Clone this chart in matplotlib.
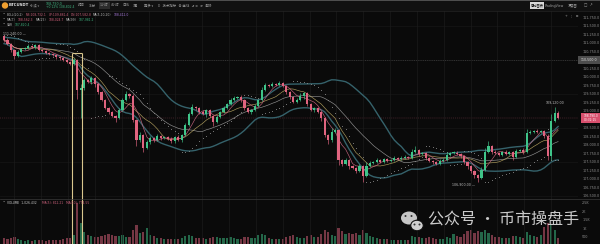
import numpy as np
import pandas as pd
import matplotlib.pyplot as plt
from matplotlib.patches import Rectangle, Ellipse
from matplotlib.lines import Line2D

plt.rcParams['font.family'] = ['DejaVu Sans']
plt.rcParams['figure.dpi'] = 100

# ---- data ----
first_open = 111200
close = [
    111080, 110970, 110790, 110610, 110730, 110820, 110850, 110910, 110880, 110940,
    110790, 110760, 110700, 110670, 110640, 110580, 110550, 110500, 110440, 110380,
    110500, 109610, 109670, 109910, 109850, 109970, 109790, 109550, 109320, 109080,
    108970, 108850, 108790, 109030, 109320, 109500, 109440, 108730, 108140, 108290,
    107910, 108090, 108200, 108140, 108260, 108200, 108230, 108170, 108110, 108230,
    108140, 108290, 108590, 108910, 109110, 109080, 108970, 108910, 109030, 108850,
    108670, 108820, 108970, 109080, 109200, 109320, 109380, 109410, 109320, 109080,
    108970, 109030, 109140, 109320, 109610, 109760, 109730, 109790, 109760, 109820,
    109730, 109550, 109410, 109260, 109320, 109440, 109530, 109200, 109030, 109080,
    108970, 108790, 108290, 108140, 108380, 108440, 107560, 107440, 107560, 107380,
    107320, 107230, 107380, 107090, 107380, 107470, 107500, 107560, 107500, 107590,
    107530, 107560, 107620, 107590, 107620, 107640, 107620, 107790, 107850, 107730,
    107760, 107620, 107530, 107500, 107440, 107530, 107560, 107700, 107760, 107760,
    107730, 107670, 107500, 107380, 107230, 107120, 107030, 107260, 107790, 107970,
    107790, 107760, 107700, 107790, 107730, 107790, 107640, 107820, 107850, 107790,
    108350, 108380, 108410, 108380, 108410, 108260, 107670, 108700, 108940, 108790,
]
wick_up = [
    40, 50, 30, 40, 60, 30, 40, 50, 30, 40,
    30, 40, 30, 30, 40, 30, 30, 40, 30, 40,
    60, 40, 120, 60, 40, 70, 30, 40, 30, 40,
    30, 40, 30, 60, 50, 90, 40, 60, 30, 90,
    40, 60, 50, 40, 60, 40, 30, 40, 50, 40,
    60, 40, 50, 60, 90, 40, 30, 60, 40, 30,
    30, 50, 40, 60, 40, 70, 60, 40, 50, 30,
    30, 40, 60, 40, 90, 60, 40, 50, 40, 60,
    40, 30, 30, 40, 60, 90, 40, 30, 40, 30,
    30, 30, 40, 30, 120, 60, 30, 40, 60, 30,
    40, 30, 60, 40, 120, 60, 40, 50, 30, 40,
    30, 40, 50, 30, 40, 60, 30, 90, 120, 40,
    40, 30, 30, 40, 30, 50, 60, 90, 40, 60,
    50, 40, 30, 40, 30, 40, 30, 90, 120, 150,
    40, 60, 30, 40, 50, 40, 30, 60, 40, 50,
    120, 60, 40, 50, 40, 30, 60, 200, 180, 60,
]
wick_dn = [
    40, 30, 60, 80, 30, 40, 30, 40, 30, 50,
    30, 40, 30, 40, 30, 40, 40, 30, 40, 30,
    40, 250, 820, 60, 40, 50, 90, 60, 40, 30,
    60, 40, 120, 40, 30, 40, 60, 50, 180, 60,
    120, 40, 50, 40, 30, 60, 40, 30, 60, 40,
    30, 50, 40, 30, 40, 60, 50, 40, 90, 30,
    120, 40, 30, 40, 30, 40, 30, 40, 60, 60,
    40, 60, 40, 30, 40, 30, 40, 30, 40, 30,
    40, 60, 60, 40, 30, 40, 90, 60, 40, 60,
    40, 90, 60, 120, 40, 30, 150, 60, 40, 90,
    40, 60, 40, 180, 40, 30, 40, 30, 40, 30,
    40, 30, 40, 30, 40, 30, 40, 30, 40, 60,
    30, 60, 40, 60, 40, 30, 40, 30, 40, 30,
    40, 60, 50, 90, 60, 90, 130, 40, 30, 40,
    60, 40, 30, 40, 30, 40, 90, 30, 40, 60,
    30, 40, 30, 40, 30, 60, 120, 120, 40, 40,
]
volume = [
    420, 380, 450, 520, 360, 300, 280, 310, 260, 300,
    340, 300, 280, 320, 300, 350, 330, 380, 420, 460,
    620, 2500, 1300, 820, 600, 540, 480, 520, 560, 640,
    700, 620, 580, 540, 600, 520, 480, 900, 1200, 760,
    820, 1030, 640, 540, 460, 420, 380, 400, 360, 380,
    400, 420, 560, 620, 580, 460, 420, 440, 400, 460,
    520, 480, 440, 420, 460, 520, 440, 400, 380, 480,
    520, 440, 460, 600, 680, 620, 440, 400, 380, 360,
    380, 520, 560, 600, 480, 460, 440, 540, 620, 480,
    520, 680, 900, 780, 620, 560, 1050, 860, 700, 760,
    680, 720, 640, 900, 760, 560, 480, 420, 400, 380,
    360, 340, 320, 340, 300, 320, 340, 560, 520, 480,
    420, 460, 480, 440, 400, 380, 400, 520, 460, 680,
    560, 520, 700, 860, 920, 760, 880, 820, 900, 720,
    600, 520, 480, 460, 440, 420, 540, 560, 480, 460,
    820, 640, 560, 520, 600, 1100, 1300, 1200, 900, 420,
]
box_candles = (20, 22)
price_ticks = np.arange(106500, 111751, 250)
vol_ticks = [500, 1000, 1500, 2000, 2500]
vol_labels = ['500', '1K', '1.5K', '2K', '2.5K']
toolbar_items = ['时间', '15分', '1小时', '4小时', '日线', '1周', '更多 ▾']
legend_rows = [
    [('BOLL(20,2)', '#b5b5b5'), ('MB:108,732.1', '#c9607a'), ('UP:109,881.4', '#c9607a'),
     ('DN:107,582.8', '#c9607a'), ('MA(5,10,20)', '#b5b5b5'), ('108,412.0', '#a678d8')],
    [('MA(7)', '#b5b5b5'), ('108,562.3', '#d0607a'), ('MA(25)', '#b5b5b5'),
     ('108,024.7', '#d0607a'), ('MA(99)', '#b5b5b5'), ('107,981.2', '#3fb27f')],
    [('SAR', '#b5b5b5'), ('107,820.4', '#3fb27f')],
]
cross_price = 110500

# ---- derived OHLC ----
c = np.array(close, dtype=float)
o = np.concatenate([[first_open], c[:-1]])
h = np.maximum(o, c) + np.array(wick_up)
l = np.minimum(o, c) - np.array(wick_dn)
v = np.array(volume, dtype=float)
x = np.arange(len(c))
up = c >= o

GREEN = '#3fc489'
RED = '#e0647f'
BG = '#0a0a0a'
CJK = ['Noto Sans CJK SC', 'DejaVu Sans']
col = np.where(up, GREEN, RED)

s = pd.Series(c)
mb = s.rolling(20, min_periods=1).mean()
sd = s.rolling(20, min_periods=2).std().bfill()
boll_up = (mb + 1.3 * sd).rolling(3, min_periods=1).mean()
boll_dn = (mb - 1.3 * sd).rolling(3, min_periods=1).mean()
ma5 = s.rolling(5, min_periods=1).mean()
ma10 = s.rolling(10, min_periods=1).mean()


def psar(high, low, af0=0.02, step=0.02, af_max=0.2):
    n = len(high)
    out = np.zeros(n)
    bull = False
    af = af0
    ep = low[0]
    out[0] = high[0]
    for i in range(1, n):
        sv = out[i - 1] + af * (ep - out[i - 1])
        j = max(i - 2, 0)
        if bull:
            sv = min(sv, low[i - 1], low[j])
            if low[i] < sv:
                bull, sv, ep, af = False, ep, low[i], af0
            elif high[i] > ep:
                ep, af = high[i], min(af + step, af_max)
        else:
            sv = max(sv, high[i - 1], high[j])
            if high[i] > sv:
                bull, sv, ep, af = True, ep, high[i], af0
            elif low[i] < ep:
                ep, af = low[i], min(af + step, af_max)
        out[i] = sv
    return out


sar = psar(h, l)

# ---- figure ----
W, H = 600, 244
fig = plt.figure(figsize=(W / 100, H / 100), facecolor=BG)


def fx(px):
    return px / W


def fy(py):
    return 1 - py / H


ax = fig.add_axes([0, fy(199), fx(578), (199 - 11) / H])
axv = fig.add_axes([0, 0, fx(578), 45 / H])
for a in (ax, axv):
    a.set_facecolor(BG)
    for sp in a.spines.values():
        sp.set_visible(False)
    a.set_xlim(-4 / 3.5, (578 - 4) / 3.5)
    a.set_xticks(np.arange(3, 165, 7.7))
    a.tick_params(axis='x', length=0, labelbottom=False)
    a.grid(axis='x', color='#1b1b1b', lw=0.5)

ax.set_ylim(106410, 111937)
# tick labels hidden where the price tags sit
shown = [p for p in price_ticks if abs(p - c[-1]) > 160 and abs(p - cross_price) > 160]
ax.yaxis.tick_right()
ax.set_yticks(shown)
ax.set_yticklabels([f'{p:,.1f}' for p in shown])
ax.tick_params(axis='y', length=0, pad=3, labelsize=2.4, colors='#8c8c8c')
for p in price_ticks[::4]:
    ax.axhline(p, color='#161616', lw=0.5, zorder=0)

# indicators
ax.plot(x, boll_up, color='#35626b', lw=1.0, zorder=2)
ax.plot(x, boll_dn, color='#35626b', lw=1.0, zorder=2)
ax.plot(x, mb, color='#bdbdbd', lw=0.45, alpha=0.75, zorder=2)
ax.plot(x, ma10, color='#c9b46a', lw=0.45, alpha=0.85, zorder=2)
ax.plot(x, ma5, color='#d36a86', lw=0.45, alpha=0.9, zorder=2)
ax.scatter(x, sar, s=0.35, color='#8f8f8f', lw=0, zorder=2)

# candles
ax.vlines(x, l, h, colors=col, lw=0.45, zorder=3)
body = np.maximum(np.abs(c - o), 18)
ax.bar(x, body, bottom=np.minimum(o, c), width=0.62, color=col, lw=0, zorder=4)

# volume
axv.bar(x, v, width=0.62, color=col, alpha=0.5, lw=0)
axv.set_ylim(88, 2735)
axv.yaxis.tick_right()
axv.set_yticks(vol_ticks)
axv.set_yticklabels(vol_labels)
axv.tick_params(axis='y', length=0, pad=3, labelsize=2.4, colors='#8c8c8c')

# highlight box around the gap candles
b0, b1 = box_candles[0] - 0.4, box_candles[1] + 0.35
box_top = h[box_candles[0]:box_candles[1] + 1].max() + 150
box_col = '#d9c68e'
ax.vlines([b0, b1], ax.get_ylim()[0], box_top, colors=box_col, lw=0.8, zorder=5)
ax.hlines(box_top, b0, b1, colors=box_col, lw=0.8, zorder=5)
for bx in (b0, b1):
    axv.axvline(bx, color=box_col, lw=0.8, zorder=5)

# high / low marks
ihi = len(h) - 2
ilo = int(np.argmin(l[120:])) + 120
ax.text(ihi, h[ihi] + 60, f'{h[ihi]:,.2f}', fontsize=2.3, color='#bdbdbd', va='bottom', ha='center')
ax.text(ilo - 0.8, l[ilo] - 30, f'{l[ilo]:,.2f} —', fontsize=2.3, color='#bdbdbd', va='top', ha='right')

# crosshair line + tag
ax.axhline(cross_price, color='#4a4a4a', lw=0.4, ls=(0, (2, 2)), zorder=1)
y_cross = ax.transData.transform((0, cross_price))[1]
fig.patches.append(Rectangle((fx(578), y_cross / H - 4 / H), fx(22), 8 / H,
                             transform=fig.transFigure, color='#4d4d4d', lw=0))
fig.text(fx(589), y_cross / H, f'{cross_price:,.1f}', fontsize=2.3, color='#e0e0e0',
         ha='center', va='center')

# last price tag
y_last = ax.transData.transform((0, c[-1]))[1]
ax.axhline(c[-1], color=RED, lw=0.35, ls=(0, (2, 2)), alpha=0.5, zorder=1)
fig.patches.append(Rectangle((fx(581), y_last / H - 5 / H), fx(19), 10 / H,
                             transform=fig.transFigure, color='#d9506e', lw=0))
fig.text(fx(590.5), y_last / H + 2.2 / H, f'{c[-1]:,.1f}', fontsize=2.1, color='white',
         ha='center', va='center')
fig.text(fx(590.5), y_last / H - 2.4 / H, '00:32:15', fontsize=2.1, color='white',
         ha='center', va='center')

# separators
fig.add_artist(Line2D([0, 1], [fy(199), fy(199)], transform=fig.transFigure, color='#3a3a3a', lw=0.5))
fig.add_artist(Line2D([0, 1], [fy(11), fy(11)], transform=fig.transFigure, color='#242424', lw=0.5))

# toolbar
fig.patches.append(Rectangle((0, fy(11)), 1, 11 / H, transform=fig.transFigure, color='#111111', lw=0))
fig.add_artist(Line2D([0, 1], [fy(0.4), fy(0.4)], transform=fig.transFigure, color='#5a5a5a', lw=0.6))
fig.patches.append(Ellipse((fx(5), fy(5.5)), fx(5), 5 / H, transform=fig.transFigure, color='#f0a030'))
fig.text(fx(9), fy(5.5), 'BTCUSDT', fontsize=2.8, color='#e8e8e8', weight='bold', va='center')
fig.text(fx(30), fy(5.5), '永续 ▾', fontsize=2.4, color='#8c8c8c', va='center', family=CJK)
fig.text(fx(46), fy(3.8), '108,790.0', fontsize=2.3, color='#3fb27f', va='center')
fig.text(fx(46), fy(7.3), '+0.12% 108,802.4', fontsize=2.2, color='#3fb27f', va='center')
for k, item in enumerate(toolbar_items):
    xx = 78 + k * 11
    if item == '1小时':
        fig.patches.append(Rectangle((fx(xx - 1.5), fy(9)), fx(11), 7 / H,
                                     transform=fig.transFigure, color='#2c2c2c', lw=0))
    fig.text(fx(xx), fy(5.5), item, fontsize=2.4, color='#9a9a9a', va='center', family=CJK)
fig.text(fx(158), fy(5.5), 'D   技术指标   ⊕ 画线   ↺ ⚙   ⟳  清除', fontsize=2.4, color='#9a9a9a',
         va='center', family=CJK)
fig.patches.append(Rectangle((fx(530), fy(9)), fx(14), 7 / H, transform=fig.transFigure,
                             color='#d8d8d8', lw=0))
fig.text(fx(537), fy(5.5), '原始图表', fontsize=2.3, color='#111111', ha='center', va='center',
         family=CJK)
fig.text(fx(555), fy(5.5), 'TradingView', fontsize=2.3, color='#9a9a9a', ha='center', va='center')
fig.text(fx(573), fy(5.5), '深度图', fontsize=2.3, color='#9a9a9a', ha='center', va='center',
         family=CJK)
fig.text(fx(588), fy(5.5), '□  ↗', fontsize=2.6, color='#9a9a9a', ha='center', va='center')
fig.text(fx(572), fy(15), '+  ⋮  ⊖', fontsize=2.4, color='#9a9a9a', ha='center', va='center')

# indicator legend rows
for r, row in enumerate(legend_rows):
    yy = fy(15 + r * 5)
    fig.text(fx(2.5), yy, '•', fontsize=2.6, color='#b5b5b5', va='center')
    xx = 7
    for txt, cl in row:
        fig.text(fx(xx), yy, txt, fontsize=2.2, color=cl, va='center')
        xx += 2.6 * len(txt) * 0.62 + 3
fig.text(fx(3), fy(33.5), f'{h[0]:,.2f} —', fontsize=2.3, color='#bdbdbd', va='center')
fig.text(fx(2.5), fy(203), '•', fontsize=2.6, color='#b5b5b5', va='center')
fig.text(fx(7), fy(203), 'VOLUME  1,026.432', fontsize=2.2, color='#c9c9c9', va='center')
fig.text(fx(42), fy(203), 'MA(5): 812.21   MA(10): 774.55', fontsize=2.2, color='#c9607a', va='center')

# watermark
wm = '#dcdcdc'
fig.patches.append(Ellipse((fx(409), fy(218)), fx(16), 13 / H, transform=fig.transFigure,
                           color=wm, alpha=0.9, lw=0))
fig.patches.append(Ellipse((fx(417), fy(225.5)), fx(12.5), 10.5 / H, transform=fig.transFigure,
                           facecolor=wm, edgecolor=BG, lw=0.8, alpha=0.95))
for ex, ey in [(405.5, 216), (411.5, 216), (414.5, 224.5), (419.5, 224.5)]:
    fig.patches.append(Ellipse((fx(ex), fy(ey)), fx(2), 2 / H, transform=fig.transFigure,
                               color='#333333', lw=0))
fig.text(fx(428), fy(220), '公众号 · 币市操盘手', fontsize=11.5, color=wm, alpha=0.92,
         va='center', ha='left', family=CJK)

fig.savefig('out.png', dpi=100, facecolor=BG)
